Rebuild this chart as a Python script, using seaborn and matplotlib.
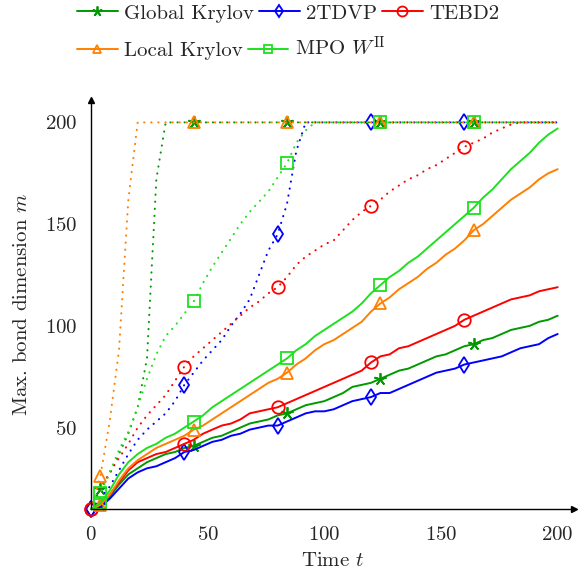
import numpy as np
import pandas as pd
import matplotlib
matplotlib.use("Agg")
import matplotlib.pyplot as plt
import seaborn as sns

# time grid of the samples
t = np.arange(0, 201, 4)

# solid lines
global_krylov = [10, 12, 16, 22, 27, 30, 33, 35, 37, 38, 40, 41, 43, 45, 46, 48, 50, 52, 53, 54,
                 56, 57, 59, 61, 62, 63, 65, 67, 70, 71, 72, 74, 76, 78, 79, 81, 83, 85, 86, 88,
                 90, 91, 93, 94, 96, 98, 99, 100, 102, 103, 105]
tdvp2 = [10, 11, 15, 20, 25, 28, 30, 31, 33, 35, 38, 39, 41, 43, 44, 46, 47, 49, 50, 51,
         51, 53, 55, 57, 58, 58, 59, 61, 63, 64, 65, 67, 67, 69, 71, 73, 75, 77, 78, 79,
         81, 82, 83, 84, 85, 87, 89, 90, 91, 94, 96]
tebd2 = [10, 12, 17, 23, 29, 33, 35, 37, 38, 40, 42, 44, 47, 49, 51, 52, 54, 57, 58, 59,
         60, 62, 64, 66, 68, 70, 72, 74, 76, 78, 82, 85, 86, 89, 90, 92, 94, 96, 98, 100,
         103, 105, 107, 109, 111, 113, 114, 115, 117, 118, 119]
local_krylov = [10, 12, 17, 24, 30, 34, 37, 40, 42, 44, 46, 49, 51, 54, 57, 60, 63, 66, 69, 72,
                74, 77, 81, 84, 88, 91, 93, 96, 99, 102, 107, 111, 114, 118, 121, 124, 128, 131, 135, 138,
                142, 147, 150, 154, 158, 162, 165, 168, 172, 175, 177]
mpo_w2 = [10, 13, 19, 27, 33, 37, 40, 42, 45, 47, 50, 53, 56, 60, 63, 66, 69, 72, 75, 78,
          81, 84, 88, 91, 95, 98, 101, 104, 107, 111, 116, 120, 124, 127, 131, 134, 138, 142, 146, 150,
          154, 158, 163, 167, 172, 177, 181, 185, 190, 194, 197]

# dotted lines
global_krylov_dot = [10, 20, 27, 37, 47, 60, 84, 172] + [200] * 43
tdvp2_dot = [10, 15, 21, 29, 37, 44, 49, 53, 57, 63, 71, 77, 83, 88, 93, 100, 106, 113, 125, 137,
             145, 160, 186] + [200] * 28
tebd2_dot = [10, 20, 28, 35, 42, 50, 56, 61, 66, 73, 80, 85, 89, 93, 97, 101, 105, 109, 112, 116,
             119, 124, 130, 134, 137, 140, 142, 147, 152, 156, 159, 162, 166, 169, 172, 174, 177, 179, 182, 185,
             188, 190, 192, 195, 197, 199] + [200] * 5
local_krylov_dot = [10, 26, 53, 88, 162] + [200] * 46
mpo_w2_dot = [10, 18, 28, 39, 48, 60, 74, 86, 95, 100, 106, 112, 121, 129, 136, 143, 150, 156, 161, 166,
              173, 180, 190, 196] + [200] * 27

x_ticks = [0, 50, 100, 150, 200]
y_ticks = [50, 100, 150, 200]

sns.set_style("white")
plt.rcParams["font.family"] = ["cmr10"]
plt.rcParams["mathtext.fontset"] = "cm"
plt.rcParams["axes.formatter.use_mathtext"] = True

FS = 15

fig = plt.figure(figsize=(5.78, 5.76), dpi=100)
ax = fig.add_axes([91 / 578, 1 - 509 / 576, (574 - 91) / 578, (509 - 100) / 576])

methods = [
    ("Global Krylov", global_krylov, global_krylov_dot, "#009900", (5, 2, 0), 9, slice(1, 50, 10)),
    ("2TDVP", tdvp2, tdvp2_dot, "#0000ff", "d", 8, slice(0, 50, 10)),
    ("TEBD2", tebd2, tebd2_dot, "#ff0000", "o", 9, slice(0, 50, 10)),
    ("Local Krylov", local_krylov, local_krylov_dot, "#ff8000", "^", 8, slice(1, 50, 10)),
    (r"MPO $W^{\mathrm{II}}$", mpo_w2, mpo_w2_dot, "#1ee01e", "s", 8, slice(1, 50, 10)),
]

handles = {}
for name, solid, dotted, color, mk, ms, every in methods:
    df = pd.DataFrame({"t": t, "solid": solid, "dotted": dotted})
    sns.lineplot(data=df, x="t", y="solid", ax=ax, color=color, lw=1.4,
                 marker=mk, ms=ms, mfc="none", mec=color, mew=1.3,
                 markevery=every, clip_on=False, label=name)
    handles[name] = ax.lines[-1]
    sns.lineplot(data=df, x="t", y="dotted", ax=ax, color=color, lw=1.5,
                 linestyle=(0, (0.1, 3.3)), dash_capstyle="round",
                 marker=mk, ms=ms, mfc="none", mec=color,
                 mew=1.3, markevery=every, clip_on=False, label="_nolegend_")

ax.set_xlim(0, 207)
ax.set_ylim(10, 211)
ax.set_xticks(x_ticks)
ax.set_yticks(y_ticks)
ax.tick_params(direction="inout", length=8, width=1, color="#999999",
               labelsize=FS, pad=6)
ax.tick_params(axis="x", pad=8)

for side in ["top", "right"]:
    ax.spines[side].set_visible(False)
for side in ["left", "bottom"]:
    ax.spines[side].set_color("black")
    ax.spines[side].set_linewidth(1.0)
ax.plot(1, 0, ">", color="black", ms=5, transform=ax.transAxes, clip_on=False)
ax.plot(0, 1, "^", color="black", ms=5, transform=ax.transAxes, clip_on=False)

ax.set_xlabel("Time $t$", fontsize=FS, labelpad=6)
ax.set_ylabel("Max. bond dimension $m$", fontsize=FS, labelpad=10)

if ax.get_legend() is not None:
    ax.get_legend().remove()

leg_kw = dict(loc="upper left", frameon=False, fontsize=FS, handlelength=1.95,
              handletextpad=0.3, columnspacing=0.25, borderpad=0, borderaxespad=0,
              markerscale=0.8)
row1 = ["Global Krylov", "2TDVP", "TEBD2"]
row2 = ["Local Krylov", r"MPO $W^{\mathrm{II}}$"]
leg1 = fig.legend([handles[k] for k in row1], row1, ncol=3,
                  bbox_to_anchor=(77 / 578, 1 - 4 / 576), **leg_kw)
fig.legend([handles[k] for k in row2], row2, ncol=2,
           bbox_to_anchor=(77 / 578, 1 - 36 / 576), **leg_kw)

fig.savefig("out.png", dpi=100)
